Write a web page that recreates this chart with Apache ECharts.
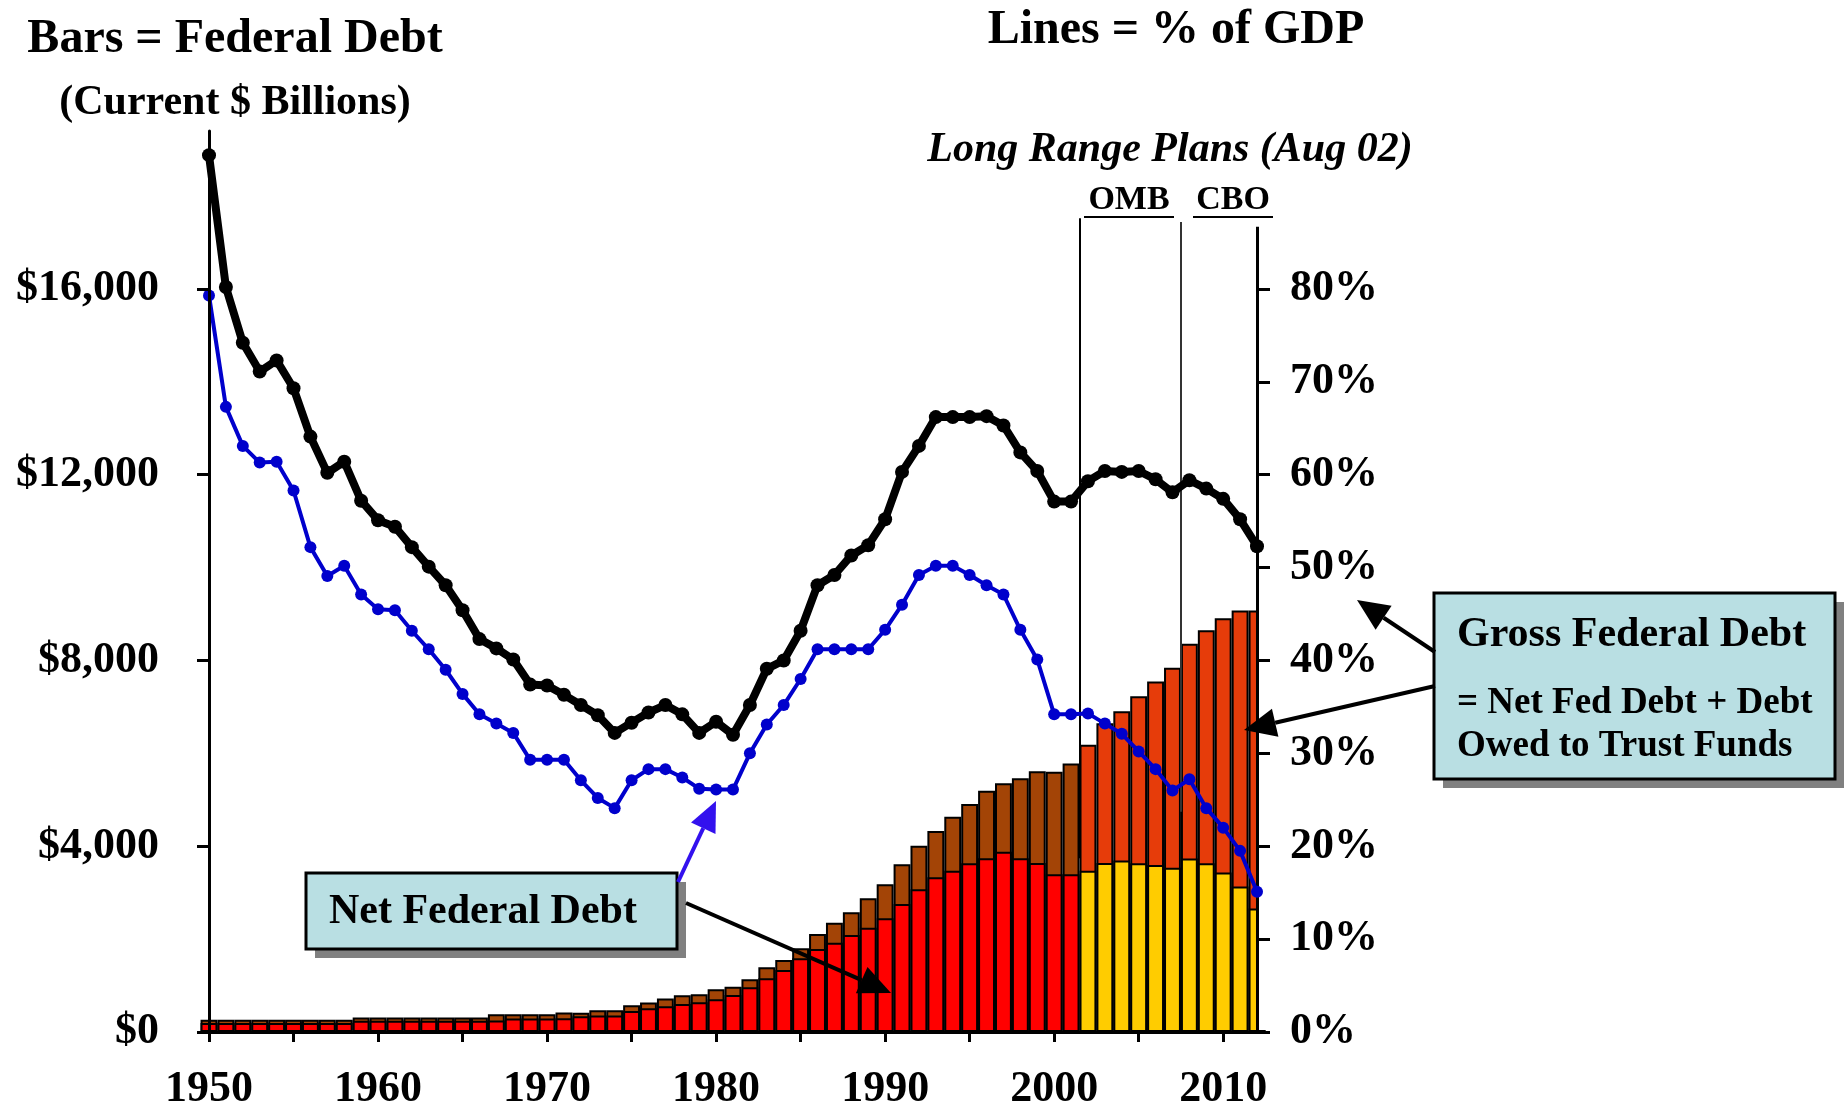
<!DOCTYPE html>
<html lang="en">
<head>
<meta charset="UTF-8">
<title>Federal Debt</title>
<script src="https://cdn.jsdelivr.net/npm/echarts@6/dist/echarts.min.js"></script>
<style>
  html, body { margin: 0; padding: 0; background: #fff; }
  #chart { width: 1847px; height: 1111px; }
</style>
</head>
<body>
<div id="chart"></div>
<script>
// ---- data ----
var firstYear = 1950, lastYear = 2012, firstProjYear = 2002;

// gross federal debt, % of GDP (black line), 1950-2012
var grossPct = [94.4, 80.2, 74.2, 71.1, 72.3, 69.3, 64.1, 60.2, 61.4, 57.2,
                55.1, 54.4, 52.2, 50.1, 48.1, 45.4, 42.3, 41.3, 40.1, 37.4,
                37.3, 36.3, 35.2, 34.1, 32.2, 33.3, 34.4, 35.2, 34.2, 32.2,
                33.4, 32.0, 35.2, 39.1, 40.0, 43.2, 48.1, 49.2, 51.3, 52.4,
                55.2, 60.3, 63.1, 66.2, 66.2, 66.2, 66.3, 65.3, 62.4, 60.4,
                57.1, 57.1, 59.3, 60.4, 60.3, 60.4, 59.5, 58.1, 59.4, 58.5,
                57.4, 55.2, 52.3];
// net federal debt, % of GDP (blue line), 1950-2012
var netPct = [79.3, 67.3, 63.1, 61.3, 61.4, 58.3, 52.2, 49.1, 50.2, 47.1,
              45.5, 45.4, 43.2, 41.2, 39.0, 36.4, 34.2, 33.2, 32.2, 29.3,
              29.3, 29.3, 27.1, 25.2, 24.1, 27.1, 28.3, 28.3, 27.4, 26.2,
              26.1, 26.1, 30.0, 33.1, 35.2, 38.0, 41.2, 41.2, 41.2, 41.2,
              43.3, 46.0, 49.2, 50.2, 50.2, 49.2, 48.1, 47.1, 43.3, 40.1,
              34.2, 34.2, 34.3, 33.2, 32.1, 30.2, 28.3, 26.0, 27.2, 24.1,
              22.0, 19.5, 15.1];

// $ billions, actual 1950-2001
var grossHist = [265, 265, 265, 265, 265, 265, 265, 265, 265, 312,
                 312, 312, 312, 312, 312, 312, 312, 381, 381, 381,
                 381, 418, 415, 467, 467, 575, 633, 719, 790, 815,
                 919, 976, 1134, 1392, 1550, 1801, 2110, 2354, 2577, 2878,
                 3180, 3611, 4011, 4328, 4636, 4909, 5196, 5354, 5462, 5615,
                 5605, 5780];
var netHist = [195, 195, 195, 195, 195, 195, 195, 195, 195, 240,
               240, 240, 240, 240, 240, 240, 240, 245, 288, 288,
               288, 295, 338, 353, 353, 452, 510, 553, 603, 640,
               703, 797, 962, 1155, 1335, 1586, 1787, 1923, 2088, 2246,
               2448, 2756, 3072, 3331, 3473, 3632, 3739, 3882, 3739, 3640,
               3395, 3395];
// $ billions, long range plans 2002-2012
var grossProj = [6185, 6650, 6905, 7230, 7545, 7845, 8360, 8650, 8910, 9075, 9075];
var netProj = [3470, 3640, 3690, 3635, 3595, 3535, 3735, 3632, 3433, 3132, 2660];

var xTickYears = [1950, 1955, 1960, 1965, 1970, 1975, 1980, 1985, 1990, 1995, 2000, 2005, 2010];
var xLabelYears = [1950, 1960, 1970, 1980, 1990, 2000, 2010];
var leftTicks = [0, 4000, 8000, 12000, 16000];
var rightTicks = [0, 10, 20, 30, 40, 50, 60, 70, 80];

var FONT = '"Liberation Serif", "Times New Roman", serif';

// ---- build series data ----
// gross bar drawn full height (trust fund colour), net bar drawn over it from zero
var grossBars = [], netBars = [], grossLine = [], netLine = [];
for (var y = firstYear; y <= lastYear; y++) {
    var i = y - firstYear;
    var proj = y >= firstProjYear;
    var g = proj ? grossProj[y - firstProjYear] : grossHist[i];
    var n = proj ? netProj[y - firstProjYear] : netHist[i];
    grossBars.push({ value: [y, g], itemStyle: { color: proj ? '#E63C0A' : '#A34406' } });
    netBars.push({ value: [y, n], itemStyle: { color: proj ? '#FFCC00' : '#FF0000' } });
    grossLine.push([y, grossPct[i]]);
    netLine.push([y, netPct[i]]);
}

// ---- annotation helpers (pixel positions) ----
function txt(x, y, s, size, opts) {
    opts = opts || {};
    return {
        type: 'text', x: x, y: y, z: 100,
        style: {
            text: s, fill: '#000',
            font: (opts.italic ? 'italic ' : '') + 'bold ' + size + 'px ' + FONT,
            align: opts.align || 'center', verticalAlign: 'middle'
        }
    };
}
function arrow(x1, y1, x2, y2, color, w, head) {
    var dx = x2 - x1, dy = y2 - y1, len = Math.sqrt(dx * dx + dy * dy);
    var ux = dx / len, uy = dy / len;
    var bx = x2 - ux * head, by = y2 - uy * head, hw = head * 0.45;
    return [
        { type: 'line', z: 100, shape: { x1: x1, y1: y1, x2: bx, y2: by }, style: { stroke: color, lineWidth: w } },
        { type: 'polygon', z: 100, shape: { points: [[x2, y2], [bx - uy * hw, by + ux * hw], [bx + uy * hw, by - ux * hw]] }, style: { fill: color } }
    ];
}
function box(x, y, w, h) {
    return [
        { type: 'rect', z: 98, shape: { x: x + 9, y: y + 9, width: w, height: h }, style: { fill: '#808080' } },
        { type: 'rect', z: 99, shape: { x: x, y: y, width: w, height: h }, style: { fill: '#B9DFE3', stroke: '#000', lineWidth: 3 } }
    ];
}

var graphics = [
    // hide the half of the last bar that sticks out past the right axis
    { type: 'rect', z: 3, shape: { x: 1259, y: 600, width: 14, height: 430 }, style: { fill: '#fff' } },
    txt(235, 40, 'Bars = Federal Debt', 48),
    txt(235, 103, '(Current $ Billions)', 42),
    txt(1176, 31, 'Lines = % of GDP', 48),
    txt(1170, 150, 'Long Range Plans (Aug 02)', 42, { italic: true }),
    txt(1129, 200, 'OMB', 34),
    txt(1233, 200, 'CBO', 34),
    { type: 'line', z: 100, shape: { x1: 1084, y1: 217, x2: 1174, y2: 217 }, style: { stroke: '#000', lineWidth: 2 } },
    { type: 'line', z: 100, shape: { x1: 1193, y1: 217, x2: 1273, y2: 217 }, style: { stroke: '#000', lineWidth: 2 } }
]
    .concat(box(306, 873, 371, 76))
    .concat([txt(329, 912, 'Net Federal Debt', 42, { align: 'left' })])
    .concat(arrow(678, 882, 716, 801, '#3311EE', 4, 30))
    .concat(arrow(686, 903, 891, 993, '#000', 4, 32))
    .concat(box(1434, 593, 401, 186))
    .concat([
        txt(1457, 635, 'Gross Federal Debt', 42, { align: 'left' }),
        txt(1457, 703, '= Net Fed Debt + Debt', 37, { align: 'left' }),
        txt(1457, 746, 'Owed to Trust Funds', 37, { align: 'left' })
    ])
    .concat(arrow(1435, 652, 1357, 600, '#000', 4, 32))
    .concat(arrow(1435, 686, 1244, 730, '#000', 4, 32));

var labelStyle = { color: '#000', fontSize: 44, fontWeight: 'bold', fontFamily: FONT };

var chart = echarts.init(document.getElementById('chart'));
chart.setOption({
    animation: false,
    backgroundColor: '#fff',
    grid: { left: 209, right: 590, top: 131, bottom: 79, containLabel: false, outerBoundsMode: 'none' },
    xAxis: {
        type: 'value', min: firstYear, max: lastYear, interval: 5, z: 10,
        axisLine: { lineStyle: { color: '#000', width: 3 } },
        axisTick: { length: 10, lineStyle: { color: '#000', width: 3 }, customValues: xTickYears },
        axisLabel: Object.assign({ margin: 36, customValues: xLabelYears, formatter: function (v) { return String(v); } }, labelStyle),
        splitLine: { show: false }
    },
    yAxis: [{
        type: 'value', min: 0, max: 19400, interval: 4000, position: 'left', z: 10,
        axisLine: { show: true, lineStyle: { color: '#000', width: 3 } },
        axisTick: { show: true, length: 12, lineStyle: { color: '#000', width: 3 }, customValues: leftTicks },
        axisLabel: Object.assign({ margin: 50, customValues: leftTicks, formatter: function (v) { return '$' + v.toLocaleString('en-US'); } }, labelStyle),
        splitLine: { show: false }
    }, {
        type: 'value', min: 0, max: 97, interval: 10, position: 'right', z: 10,
        axisLine: { show: false },
        axisTick: { show: true, length: 13, lineStyle: { color: '#000', width: 3 }, customValues: rightTicks },
        axisLabel: Object.assign({ margin: 33, customValues: rightTicks, formatter: function (v) { return v + '%'; } }, labelStyle),
        splitLine: { show: false }
    }],
    series: [{
        name: 'Gross Federal Debt', type: 'bar', yAxisIndex: 0,
        barCategoryGap: '0%', barGap: '-100%', data: grossBars, z: 2,
        itemStyle: { borderColor: '#000', borderWidth: 2 }
    }, {
        name: 'Net Federal Debt', type: 'bar', yAxisIndex: 0,
        barCategoryGap: '0%', barGap: '-100%', data: netBars, z: 2,
        itemStyle: { borderColor: '#000', borderWidth: 2 }
    }, {
        name: 'Gross % GDP', type: 'line', yAxisIndex: 1, data: grossLine, clip: false,
        symbol: 'circle', symbolSize: 14, showAllSymbol: true, z: 5,
        lineStyle: { color: '#000', width: 8 }, itemStyle: { color: '#000' },
        markLine: {
            silent: true, symbol: ['none', 'none'], label: { show: false },
            lineStyle: { color: '#000', width: 2, type: 'solid' },
            data: [
                [{ coord: [2001.5, 87.6] }, { coord: [2001.5, 18.7] }],
                [{ coord: [2007.5, 87.2] }, { coord: [2007.5, 23.7], lineStyle: { color: '#333' } }],
                [{ coord: [2012, 86.7], lineStyle: { width: 3 } }, { coord: [2012, 0] }]
            ]
        }
    }, {
        name: 'Net % GDP', type: 'line', yAxisIndex: 1, data: netLine, clip: false,
        symbol: 'circle', symbolSize: 12, showAllSymbol: true, z: 6,
        lineStyle: { color: '#0000CC', width: 4 }, itemStyle: { color: '#0000CC' }
    }],
    graphic: graphics
});
</script>
</body>
</html>
